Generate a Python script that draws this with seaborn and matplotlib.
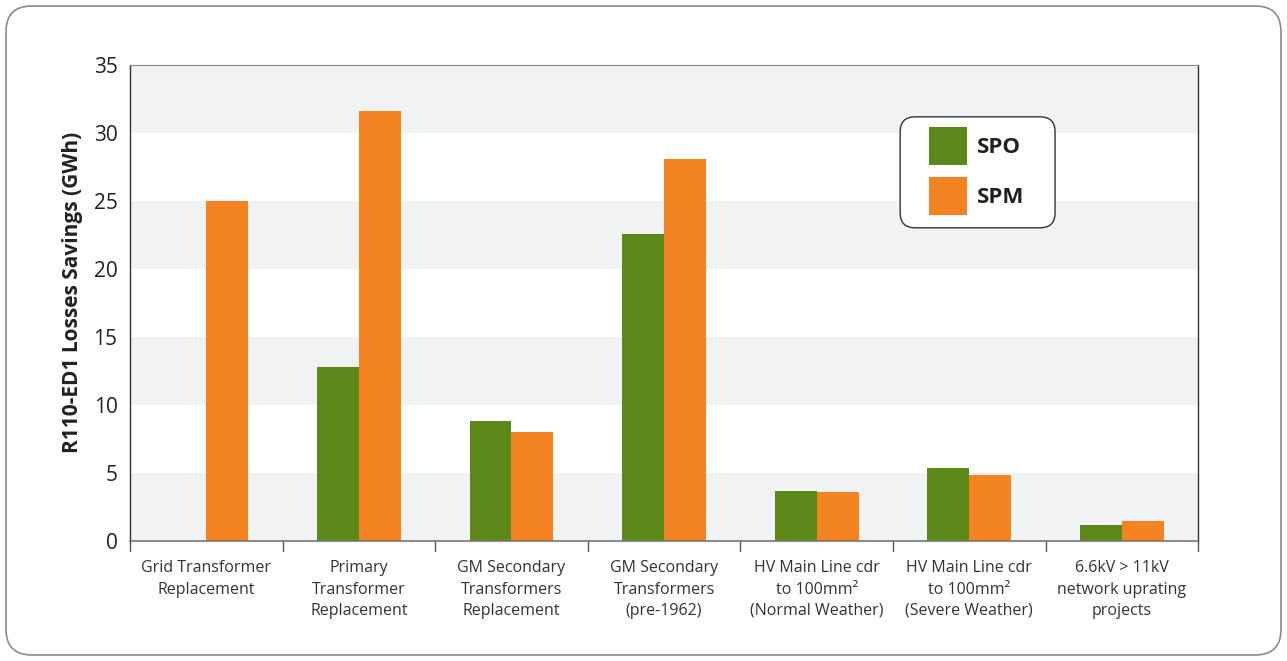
import matplotlib
matplotlib.use("Agg")
import matplotlib.pyplot as plt
import seaborn as sns
import pandas as pd
from matplotlib.patches import FancyBboxPatch, Patch

categories = [
    "Grid Transformer\nReplacement",
    "Primary\nTransformer\nReplacement",
    "GM Secondary\nTransformers\nReplacement",
    "GM Secondary\nTransformers\n(pre-1962)",
    "HV Main Line cdr\nto 100mm²\n(Normal Weather)",
    "HV Main Line cdr\nto 100mm²\n(Severe Weather)",
    "6.6kV > 11kV\nnetwork uprating\nprojects",
]
spo = [0.0, 12.8, 8.8, 22.6, 3.7, 5.4, 1.2]
spm = [25.0, 31.6, 8.0, 28.1, 3.6, 4.85, 1.5]
series = ["SPO", "SPM"]
colors = {"SPO": "#5c8719", "SPM": "#f48322"}

df = pd.DataFrame({
    "category": categories * 2,
    "series": ["SPO"] * len(categories) + ["SPM"] * len(categories),
    "value": spo + spm,
})

sns.set_style("white")
plt.rcParams["font.family"] = ["Open Sans", "DejaVu Sans"]

fig = plt.figure(figsize=(12.87, 6.61), dpi=100)
ax = fig.add_axes([0.101, 0.1815, 0.830, 0.7202])

# Alternating horizontal bands behind the bars
for lo in range(0, 35, 10):
    ax.axhspan(lo, lo + 5, color="#f1f2f4", zorder=0, lw=0)

sns.barplot(data=df, x="category", y="value", hue="series", hue_order=series,
            order=categories, palette=colors, width=0.55, saturation=1,
            linewidth=0, edgecolor="none", ax=ax, legend=False, zorder=2)

ax.set_xlim(-0.5, len(categories) - 0.5)
ax.set_ylim(0, 35)
ax.set_yticks(range(0, 36, 5))
ax.tick_params(axis="y", labelsize=15, length=6, width=1, color="#333333",
               labelcolor="#222222", pad=3)

# Category ticks sit on the boundaries between groups
ax.set_xticks(list(range(len(categories))))
ax.set_xticklabels(categories, fontsize=11.5, color="#333333", linespacing=1.42)
ax.tick_params(axis="x", length=0, pad=14)
for b in [i - 0.5 for i in range(len(categories) + 1)]:
    ax.plot([b, b], [0, -0.02], transform=ax.get_xaxis_transform(),
            color="#555555", lw=1, clip_on=False)

ax.set_xlabel("")
ax.set_ylabel("R110-ED1 Losses Savings (GWh)", fontsize=15, fontweight="bold",
              color="#222222")
ax.yaxis.set_label_coords(-0.044, 0.523)

for side in ["left", "right"]:
    ax.spines[side].set_color("#333333")
    ax.spines[side].set_linewidth(1)
ax.spines["top"].set_color("#8a8a8a")
ax.spines["bottom"].set_color("#777777")
ax.spines["bottom"].set_linewidth(1.2)

# Legend: rounded white box with square swatches
box = FancyBboxPatch((0.721, 0.658), 0.145, 0.233,
                     boxstyle="round,pad=0,rounding_size=0.014",
                     transform=ax.transAxes, facecolor="white",
                     edgecolor="#333333", lw=1, zorder=5,
                     mutation_aspect=1068 / 476)
ax.add_patch(box)
handles = [Patch(facecolor=colors[s], edgecolor="none", label=s) for s in series]
leg = ax.legend(handles=handles, loc="upper left", bbox_to_anchor=(0.748, 0.870),
                frameon=False, handlelength=1.71, handleheight=2.26,
                handletextpad=0.45, labelspacing=0.55, borderpad=0,
                borderaxespad=0, prop={"size": 16, "weight": "bold"})
leg.set_zorder(6)
for t in leg.get_texts():
    t.set_color("#222222")

# Rounded outer frame
frame = FancyBboxPatch((6 / 1287, 6 / 661), 1275 / 1287, 649 / 661,
                       boxstyle="round,pad=0,rounding_size=0.02",
                       transform=fig.transFigure, facecolor="none",
                       edgecolor="#8a8a8a", lw=1.2, mutation_aspect=1287 / 661)
fig.patches.append(frame)

fig.savefig("out.png", dpi=100)
